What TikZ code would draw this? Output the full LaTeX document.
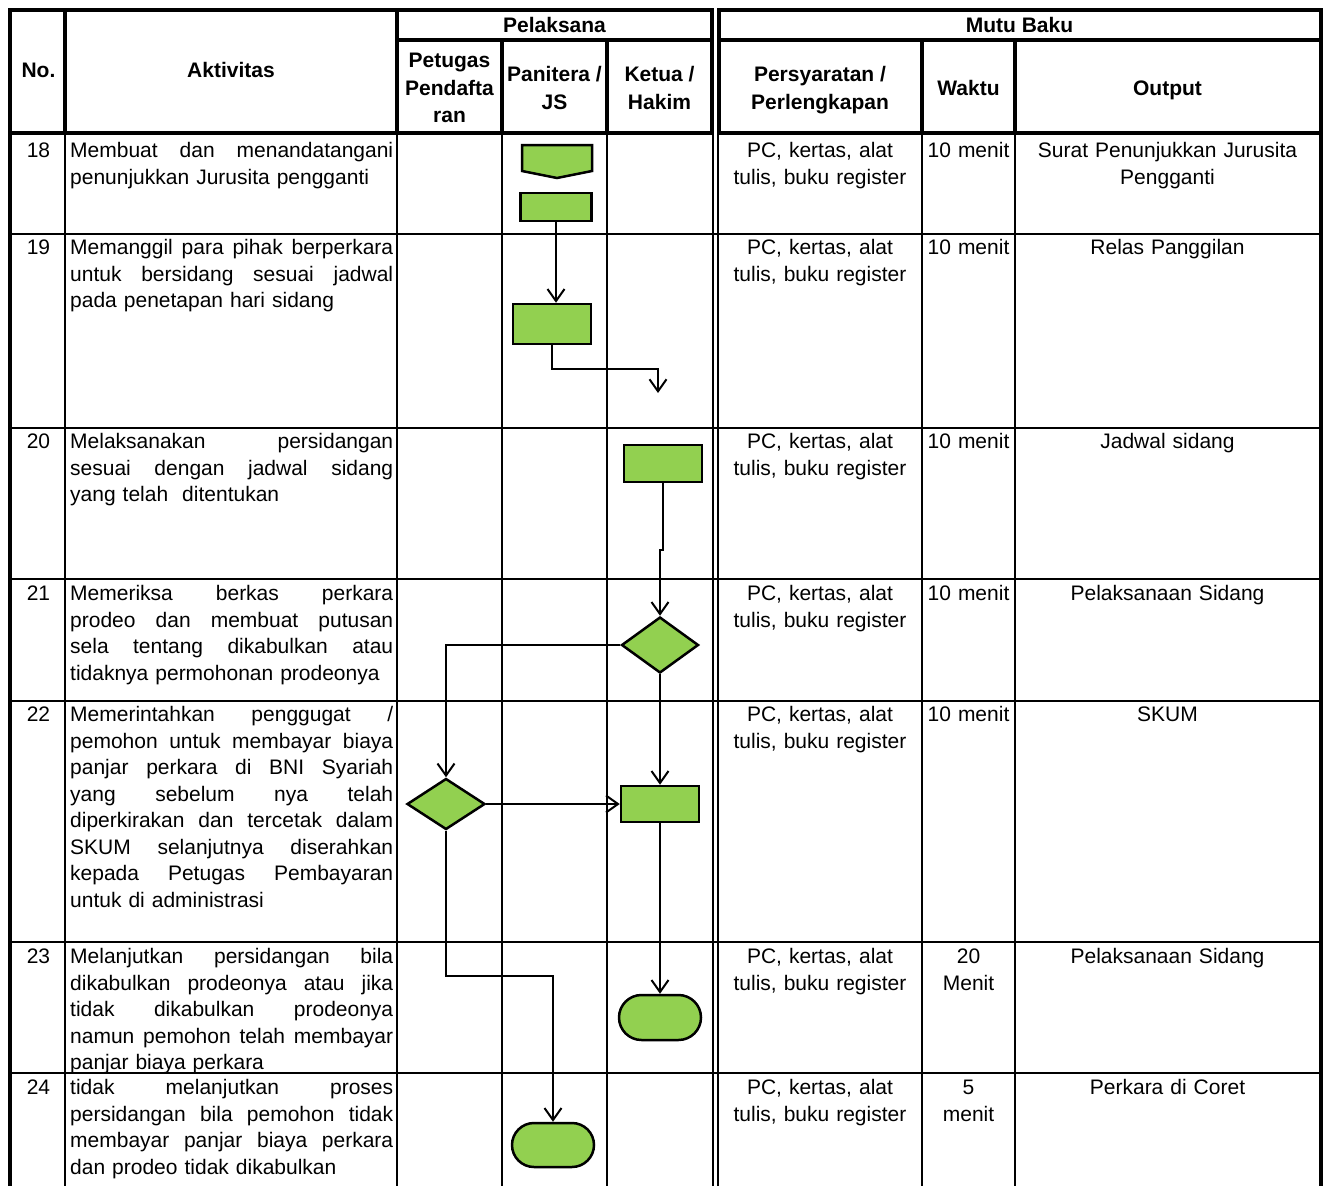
\documentclass[tikz,border=0pt]{standalone}
\usepackage{fontspec}
\setmainfont{Liberation Sans}
\usetikzlibrary{arrows.meta,shapes.geometric,shapes.misc}
\definecolor{fgreen}{HTML}{92D050}
\newcommand\fs{\fontsize{21}{26.5}\selectfont}
\newcommand\hs{\fontsize{21}{27.5}\selectfont\bfseries}
\newcommand\jl[1]{\strut\makebox[323pt][s]{\spaceskip=\fontdimen2\font plus 1fil\relax #1}}
\newcommand\lastln[1]{\strut #1}
\begin{document}
\begin{tikzpicture}[x=1pt,y=-1pt,
  tk/.style={line width=4.5pt},
  tkh/.style={line width=3.5pt},
  tn/.style={line width=2pt},
  act/.style={anchor=north west, inner sep=0pt, text width=323pt, align=left, font=\fs},
  ctr/.style={anchor=north, inner sep=0pt, text width=#1, align=center, font=\fs},
  hdr/.style={inner sep=0pt, align=center, font=\hs},
  shp/.style={draw=black, fill=fgreen, line width=2.5pt, inner sep=0pt},
  proc/.style={shp, rectangle},
  dec/.style={shp, diamond},
  term/.style={shp, rounded rectangle},
  conn/.style={line width=2pt, -{Straight Barb[length=12pt,width=17pt]}}]
\useasboundingbox (0,0) rectangle (1325,1186);
% ---------- body grid ----------
\foreach \y in {234,428,579,700.5,941.5,1073} \draw[tn] (10,\y) -- (1321,\y);
\foreach \x in {65,397,502,607,713,718,922,1015} \draw[tn] (\x,133) -- (\x,1186);
\draw[tk] (10,10) -- (10,1186);
\draw[tk] (1321,10) -- (1321,1186);
% ---------- header grid ----------
\draw[tk] (10,10) rectangle (712,133);
\draw[tk] (719,10) rectangle (1321,133);
\draw[tk] (65,10) -- (65,133);
\draw[tkh] (397,10) -- (397,133);
\draw[tk] (397,40) -- (712,40);
\draw[tk] (719,40) -- (1321,40);
\draw[tk] (502,40) -- (502,133);
\draw[tk] (607,40) -- (607,133);
\draw[tk] (922,40) -- (922,133);
\draw[tk] (1015,40) -- (1015,133);
% ---------- header text ----------
\node[hdr, anchor=base] (hNo) at (38.5,77.5) {No.};
\node[hdr, anchor=base] (hAkt) at (231,77.5) {Aktivitas};
\node[hdr, anchor=base] (hPel) at (554.5,32.5) {Pelaksana};
\node[hdr, anchor=base] (hMutu) at (1019.5,32.5) {Mutu Baku};
\node[hdr, anchor=north] (hPet) at (449.5,48.25) {\strut Petugas\\\strut Pendafta\\\strut ran};
\node[hdr, anchor=north] (hPan) at (554.5,62.25) {\strut Panitera /\\\strut JS};
\node[hdr, anchor=north] (hKet) at (659.5,62.25) {\strut Ketua /\\\strut Hakim};
\node[hdr, anchor=north] (hPer) at (820,62.25) {\strut Persyaratan /\\\strut Perlengkapan};
\node[hdr, anchor=base] (hWak) at (968.5,95.5) {Waktu};
\node[hdr, anchor=base] (hOut) at (1167.5,95.5) {Output};
% ---------- row texts ----------
% row 18
\node[ctr=50pt] (n18) at (38.5,139) {\strut 18};
\node[act] (a18) at (70,139) {\jl{Membuat dan menandatangani}\\\lastln{penunjukkan Jurusita pengganti}};
\node[ctr=200pt] (p18) at (820,139) {\strut PC, kertas, alat\\\strut tulis, buku register};
\node[ctr=90pt] (w18) at (968.5,139) {\strut 10 menit};
\node[ctr=300pt] (o18) at (1167.5,139) {\strut Surat Penunjukkan Jurusita\\\strut Pengganti};
% row 19
\node[ctr=50pt] (n19) at (38.5,236) {\strut 19};
\node[act] (a19) at (70,236) {\jl{Memanggil para pihak berperkara}\\\jl{untuk bersidang sesuai jadwal}\\\lastln{pada penetapan hari sidang}};
\node[ctr=200pt] (p19) at (820,236) {\strut PC, kertas, alat\\\strut tulis, buku register};
\node[ctr=90pt] (w19) at (968.5,236) {\strut 10 menit};
\node[ctr=300pt] (o19) at (1167.5,236) {\strut Relas Panggilan};
% row 20
\node[ctr=50pt] (n20) at (38.5,430) {\strut 20};
\node[act] (a20) at (70,430) {\jl{Melaksanakan persidangan}\\\jl{sesuai dengan jadwal sidang}\\\lastln{yang telah\ \ ditentukan}};
\node[ctr=200pt] (p20) at (820,430) {\strut PC, kertas, alat\\\strut tulis, buku register};
\node[ctr=90pt] (w20) at (968.5,430) {\strut 10 menit};
\node[ctr=300pt] (o20) at (1167.5,430) {\strut Jadwal sidang};
% row 21
\node[ctr=50pt] (n21) at (38.5,582) {\strut 21};
\node[act] (a21) at (70,582) {\jl{Memeriksa berkas perkara}\\\jl{prodeo dan membuat putusan}\\\jl{sela tentang dikabulkan atau}\\\lastln{tidaknya permohonan prodeonya}};
\node[ctr=200pt] (p21) at (820,582) {\strut PC, kertas, alat\\\strut tulis, buku register};
\node[ctr=90pt] (w21) at (968.5,582) {\strut 10 menit};
\node[ctr=300pt] (o21) at (1167.5,582) {\strut Pelaksanaan Sidang};
% row 22
\node[ctr=50pt] (n22) at (38.5,703) {\strut 22};
\node[act] (a22) at (70,703) {\jl{Memerintahkan penggugat /}\\\jl{pemohon untuk membayar biaya}\\\jl{panjar perkara di BNI Syariah}\\\jl{yang sebelum nya telah}\\\jl{diperkirakan dan tercetak dalam}\\\jl{SKUM selanjutnya diserahkan}\\\jl{kepada Petugas Pembayaran}\\\lastln{untuk di administrasi}};
\node[ctr=200pt] (p22) at (820,703) {\strut PC, kertas, alat\\\strut tulis, buku register};
\node[ctr=90pt] (w22) at (968.5,703) {\strut 10 menit};
\node[ctr=300pt] (o22) at (1167.5,703) {\strut SKUM};
% row 23
\node[ctr=50pt] (n23) at (38.5,945) {\strut 23};
\node[act] (a23) at (70,945) {\jl{Melanjutkan persidangan bila}\\\jl{dikabulkan prodeonya atau jika}\\\jl{tidak dikabulkan prodeonya}\\\jl{namun pemohon telah membayar}\\\lastln{panjar biaya perkara}};
\node[ctr=200pt] (p23) at (820,945) {\strut PC, kertas, alat\\\strut tulis, buku register};
\node[ctr=90pt] (w23) at (968.5,945) {\strut 20\\\strut Menit};
\node[ctr=300pt] (o23) at (1167.5,945) {\strut Pelaksanaan Sidang};
% row 24
\node[ctr=50pt] (n24) at (38.5,1076) {\strut 24};
\node[act] (a24) at (70,1076) {\jl{tidak melanjutkan proses}\\\jl{persidangan bila pemohon tidak}\\\jl{membayar panjar biaya perkara}\\\lastln{dan prodeo tidak dikabulkan}};
\node[ctr=200pt] (p24) at (820,1076) {\strut PC, kertas, alat\\\strut tulis, buku register};
\node[ctr=90pt] (w24) at (968.5,1076) {\strut 5\\\strut menit};
\node[ctr=300pt] (o24) at (1167.5,1076) {\strut Perkara di Coret};
% ---------- flow shapes ----------
\draw[shp] (522,145) -- (592,145) -- (592,171) -- (557,178) -- (522,171) -- cycle;
\coordinate (op18) at (557,160);
\node[proc, minimum width=71pt, minimum height=28pt] (ra) at (556,207) {};
\node[proc, minimum width=78pt, minimum height=40pt] (rb) at (552,324) {};
\node[proc, minimum width=78pt, minimum height=37pt] (rc) at (663,463.5) {};
\node[dec, minimum width=77pt, minimum height=56pt] (d1) at (660,645) {};
\node[dec, minimum width=78pt, minimum height=51pt] (d2) at (446,804) {};
\node[proc, minimum width=78pt, minimum height=36pt] (re) at (660,804) {};
\node[term, minimum width=82pt, minimum height=45pt] (t1) at (660,1017.5) {};
\node[term, minimum width=82pt, minimum height=44pt] (t2) at (553,1145) {};
\coordinate (k19) at (658,369);
\coordinate (e19) at (658,393);
\coordinate (k23) at (553,976);
% ---------- connectors ----------
\draw[conn] (ra.south) -- (ra.south |- rb.north);
\draw[conn] (rb.south) |- (k19) -- (e19);
\draw[conn] (rc.south) -- ++(0,67) -- ++(-3,0) -- (d1.north);
\draw[conn] (d1.west) -| (d2.north);
\draw[conn] (d1.south) -- (re.north);
\draw[conn] (d2.east) -- (re.west);
\draw[conn] (re.south) -- (t1.north);
\draw[conn] (d2.south) |- (k23) -- (t2.north);
\end{tikzpicture}
\end{document}
